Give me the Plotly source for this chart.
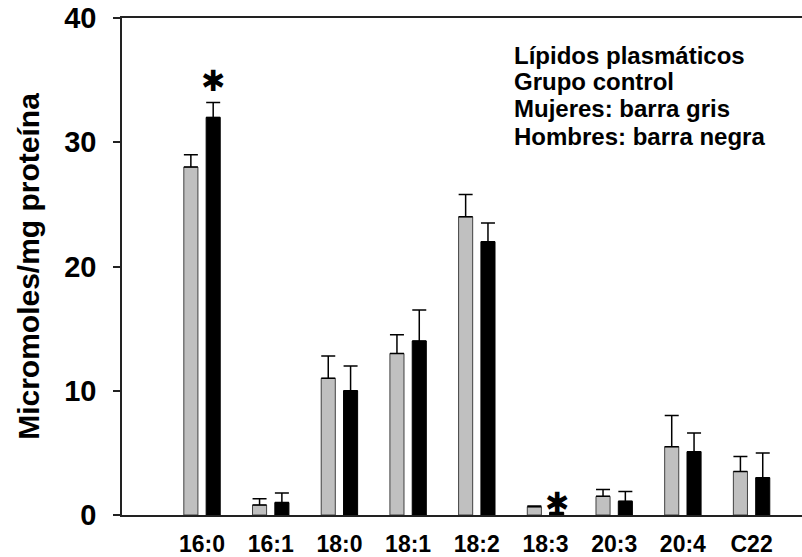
import plotly.graph_objects as go

categories = ["16:0", "16:1", "18:0", "18:1", "18:2", "18:3", "20:3", "20:4", "C22"]
mujeres = [28.0, 0.8, 11.0, 13.0, 24.0, 0.67, 1.5, 5.5, 3.5]
mujeres_err = [1.0, 0.5, 1.8, 1.5, 1.8, 0.05, 0.55, 2.5, 1.2]
hombres = [32.0, 1.0, 10.0, 14.0, 22.0, 0.2, 1.1, 5.1, 3.0]
hombres_err = [1.2, 0.77, 2.0, 2.5, 1.5, 0.0, 0.8, 1.5, 2.0]
# significant differences (marked with an asterisk above the black bar)
signif = ["16:0", "18:3"]
signif_shift = [21, 10]

y_ticks = [0, 10, 20, 30, 40]
note_lines = ["Lípidos plasmáticos", "Grupo control", "Mujeres: barra gris", "Hombres: barra negra"]

W, H = 802, 557
L, R, T, B = 122, 0, 18, 42

fig = go.Figure()
bw = 0.205
fig.add_trace(go.Bar(
    x=categories, y=mujeres, width=bw, offset=-0.265,
    marker=dict(color="#c0c0c0", line=dict(color="#404040", width=1)),
    error_y=dict(type="data", symmetric=False, array=mujeres_err,
                 arrayminus=[0] * len(mujeres), color="black", thickness=1.5, width=7),
    name="Mujeres", showlegend=False,
))
fig.add_trace(go.Bar(
    x=categories, y=hombres, width=bw, offset=0.06,
    marker=dict(color="black", line=dict(color="black", width=1)),
    error_y=dict(type="data", symmetric=False, array=hombres_err,
                 arrayminus=[0] * len(hombres), color="black", thickness=1.5, width=7),
    name="Hombres", showlegend=False,
))

annotations = []
for cat, sh in zip(signif, signif_shift):
    i = categories.index(cat)
    annotations.append(dict(
        x=i + 0.06 + bw / 2, xref="x", y=hombres[i] + hombres_err[i], yref="y",
        text="✱", showarrow=False, yanchor="middle", yshift=sh,
        font=dict(family="DejaVu Sans", size=29, color="black"),
    ))

plot_h = H - T - B
line_gap = 27
for k, line in enumerate(note_lines):
    ypix = 55 + k * line_gap
    annotations.append(dict(
        x=(512 - L) / (W - L - R), xref="paper", xanchor="left",
        y=1 - (ypix - T) / plot_h, yref="paper", yanchor="middle",
        text=line, showarrow=False,
        font=dict(family="Liberation Sans", size=24, color="black", weight="bold"),
    ))

fig.update_layout(
    width=W, height=H,
    margin=dict(l=L, r=R, t=T, b=B),
    paper_bgcolor="white", plot_bgcolor="white",
    barmode="group",
    annotations=annotations,
    font=dict(family="Liberation Sans", color="black"),
)
fig.update_xaxes(
    type="category", range=[-1.165, 8.734],
    showline=True, linecolor="#222", linewidth=1.5, mirror=True,
    ticks="", showgrid=False, zeroline=False,
    tickfont=dict(family="Liberation Sans", size=23, color="black", weight="bold"),
    ticklabelstandoff=8,
)
fig.update_yaxes(
    range=[0, 40], tickvals=y_ticks,
    showline=True, linecolor="#222", linewidth=1.5, mirror=False,
    ticks="outside", ticklen=7, tickwidth=1.5, tickcolor="#222",
    showgrid=False, zeroline=False,
    tickfont=dict(family="Liberation Sans", size=29, color="black", weight="bold"),
    ticklabelstandoff=11,
    title=dict(text="Micromoles/mg proteína", standoff=16,
               font=dict(family="Liberation Sans", size=30, color="black", weight="bold")),
)

fig.write_html("out.html")
